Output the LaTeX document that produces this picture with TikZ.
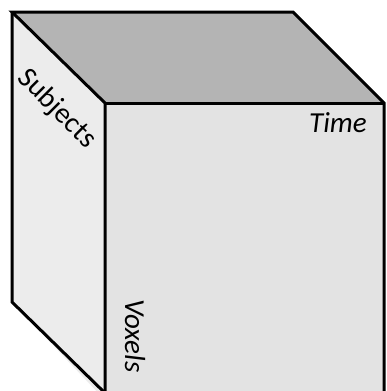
\documentclass[tikz,border=0pt]{standalone}
\usepackage{fontspec}
\setmainfont{Carlito}
\definecolor{topgray}{RGB}{180,180,180}
\definecolor{frontgray}{RGB}{227,227,227}
\definecolor{leftgray}{RGB}{236,236,236}
\tikzset{edge/.style={draw=black,line width=3pt,line join=miter},
  lbl/.style={font=\fontsize{29}{31}\selectfont\itshape,inner sep=0pt}}
\begin{document}
\begin{tikzpicture}[x=1pt,y=-1pt]
\useasboundingbox (0,0) rectangle (386,391);
\fill[white] (0,0) rectangle (386,391);
\begin{scope}
\clip (0,0) rectangle (386,391);
% top face
\fill[topgray] (12,12) -- (293,12) -- (384,103) -- (105,103) -- cycle;
% left face
\fill[leftgray] (12,12) -- (105,103) -- (105,400) -- (12,302) -- cycle;
% front face
\fill[frontgray] (105,103) rectangle (384,400);
\draw[edge] (105,400) -- (105,103) -- (12,12) -- (293,12) -- (384,103) -- (384,400);
\draw[edge] (105,103) -- (384,103);
\draw[edge] (12,12) -- (12,302) -- (105,393);
\end{scope}
\node[lbl,font=\fontsize{29}{31}\selectfont,rotate=-45] (subj) at (57,109) {Subjects};
\node[lbl] (time) at (338,123) {Time};
\node[lbl,rotate=-90] (vox) at (135,336) {Voxels};
\end{tikzpicture}
\end{document}
